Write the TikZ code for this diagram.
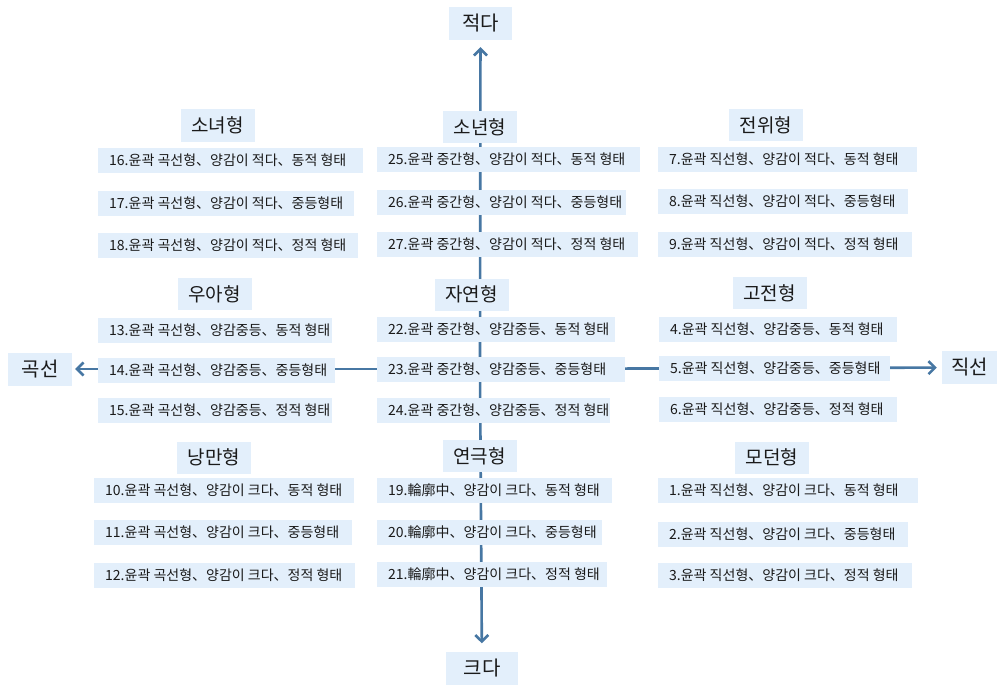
\documentclass[tikz,border=0pt]{standalone}
\usepackage{fontspec}
\setmainfont{Noto Sans CJK KR}
\usetikzlibrary{arrows.meta}
\definecolor{boxfill}{HTML}{E3EFFB}
\definecolor{axisblue}{HTML}{4777A3}
\definecolor{txt}{HTML}{1A1A1A}
\pgfdeclarelayer{bg}
\pgfsetlayers{bg,main}
\newcommand\boxtxt[2]{\makebox[#1pt][l]{\hspace{11pt}#2}}
\begin{document}
\begin{tikzpicture}[x=1pt,y=-1pt,
  item/.style={fill=boxfill, anchor=west, minimum height=25pt, inner xsep=0pt, inner ysep=0pt, font=\fontsize{14}{16}\selectfont, text=txt},
  head/.style={fill=boxfill, minimum width=74pt, minimum height=32pt, inner sep=0pt, font=\fontsize{19}{21}\selectfont, text=txt},
  axlab/.style={fill=boxfill, minimum height=33pt, inner sep=0pt, font=\fontsize{20}{22}\selectfont, text=txt},
  axisline/.style={draw=axisblue, line width=2.6pt, -{Straight Barb[length=6.5pt,width=13pt]}}]
\useasboundingbox (0,0) rectangle (997,685);

% axis labels
\node[axlab, minimum width=63pt] (top) at (480.5,23.5) {적다};
\node[axlab, minimum width=72pt] (bottom) at (482,668) {크다};
\node[axlab, minimum width=64pt] (left) at (40,369) {곡선};
\node[axlab, minimum width=55pt] (right) at (969.5,367.5) {직선};
\coordinate (c) at (480,369);

% headers
\node[head] (h1) at (217.5,125.5) {소녀형};
\node[head] (h2) at (480,127) {소년형};
\node[head] (h3) at (766,125) {전위형};
\node[head] (h4) at (214.5,294) {우아형};
\node[head] (h5) at (471.5,294.5) {자연형};
\node[head] (h6) at (769.5,293) {고전형};
\node[head] (h7) at (214,457.5) {낭만형};
\node[head] (h8) at (479.5,456) {연극형};
\node[head] (h9) at (772,457.5) {모던형};

% left column
\node[item] (i16) at (98,160.5) {\boxtxt{265}{16.윤곽 곡선형、양감이 적다、동적 형태}};
\node[item] (i17) at (98,203.5) {\boxtxt{256}{17.윤곽 곡선형、양감이 적다、중등형태}};
\node[item] (i18) at (98,245) {\boxtxt{260}{18.윤곽 곡선형、양감이 적다、정적 형태}};
\node[item] (i13) at (98,330) {\boxtxt{234}{13.윤곽 곡선형、양감중등、동적 형태}};
\node[item] (i14) at (98,370) {\boxtxt{237}{14.윤곽 곡선형、양감중등、중등형태}};
\node[item] (i15) at (98,410) {\boxtxt{234}{15.윤곽 곡선형、양감중등、정적 형태}};
\node[item] (i10) at (94,490.5) {\boxtxt{260}{10.윤곽 곡선형、양감이 크다、동적 형태}};
\node[item] (i11) at (94,532.5) {\boxtxt{258}{11.윤곽 곡선형、양감이 크다、중등형태}};
\node[item] (i12) at (94,575.5) {\boxtxt{261}{12.윤곽 곡선형、양감이 크다、정적 형태}};

% middle column
\node[item] (i25) at (377,159) {\boxtxt{263}{25.윤곽 중간형、양감이 적다、동적 형태}};
\node[item] (i26) at (377,202) {\boxtxt{249}{26.윤곽 중간형、양감이 적다、중등형태}};
\node[item] (i27) at (377,244) {\boxtxt{261}{27.윤곽 중간형、양감이 적다、정적 형태}};
\node[item] (i22) at (377,329.5) {\boxtxt{238}{22.윤곽 중간형、양감중등、동적 형태}};
\node[item] (i23) at (377,369.5) {\boxtxt{248}{23.윤곽 중간형、양감중등、중등형태}};
\node[item] (i24) at (377,410) {\boxtxt{233}{24.윤곽 중간형、양감중등、정적 형태}};
\node[item] (i19) at (377,490.5) {\boxtxt{235}{19.輪廓中、양감이 크다、동적 형태}};
\node[item] (i20) at (377,532) {\boxtxt{225}{20.輪廓中、양감이 크다、중등형태}};
\node[item] (i21) at (377,574.5) {\boxtxt{230}{21.輪廓中、양감이 크다、정적 형태}};

% right column
\node[item] (i7) at (658,159.5) {\boxtxt{259}{7.윤곽 직선형、양감이 적다、동적 형태}};
\node[item] (i8) at (658,201.5) {\boxtxt{250}{8.윤곽 직선형、양감이 적다、중등형태}};
\node[item] (i9) at (658,244.5) {\boxtxt{254}{9.윤곽 직선형、양감이 적다、정적 형태}};
\node[item] (i4) at (659,329.5) {\boxtxt{238}{4.윤곽 직선형、양감중등、동적 형태}};
\node[item] (i5) at (659,368.5) {\boxtxt{231}{5.윤곽 직선형、양감중등、중등형태}};
\node[item] (i6) at (659,409) {\boxtxt{238}{6.윤곽 직선형、양감중등、정적 형태}};
\node[item] (i1) at (658,490.5) {\boxtxt{260}{1.윤곽 직선형、양감이 크다、동적 형태}};
\node[item] (i2) at (658,534) {\boxtxt{250}{2.윤곽 직선형、양감이 크다、중등형태}};
\node[item] (i3) at (658,575) {\boxtxt{254}{3.윤곽 직선형、양감이 크다、정적 형태}};

\begin{pgfonlayer}{bg}
\draw[axisline, shorten >=7pt] (c) -- (top);
\draw[axisline, shorten >=8pt] (c) -- (bottom);
\draw[axisline, shorten >=3pt] (c) -- (left);
\draw[axisline, shorten >=5pt] (c) -- (right);
\end{pgfonlayer}
\end{tikzpicture}
\end{document}
